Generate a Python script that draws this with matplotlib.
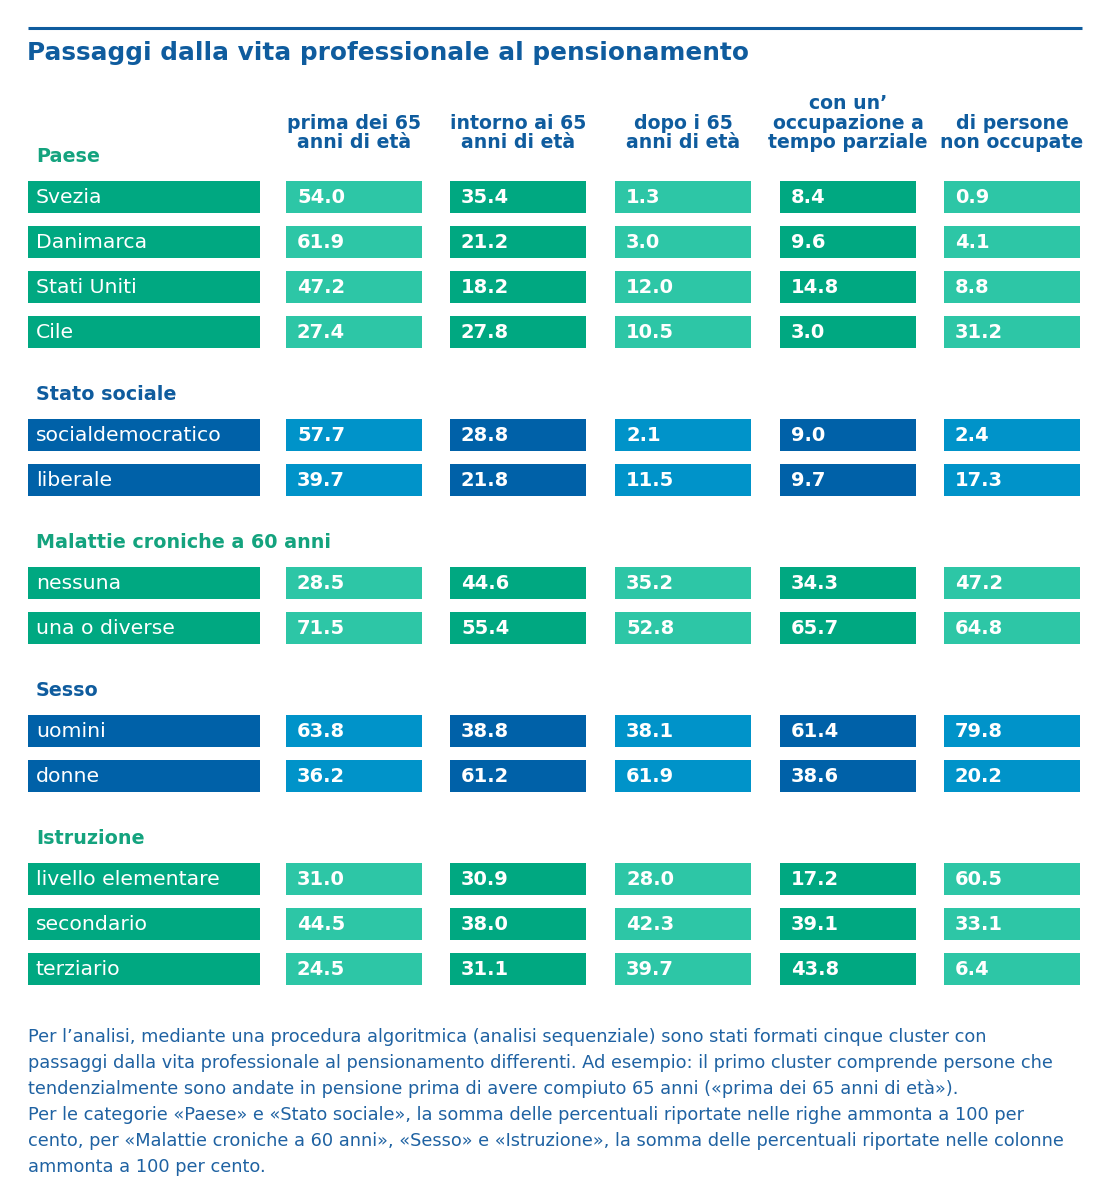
import matplotlib.pyplot as plt
from matplotlib.patches import Rectangle

plt.rcParams['font.family'] = ['DejaVu Sans']

title = "Passaggi dalla vita professionale al pensionamento"
columns = ["prima dei 65\nanni di età", "intorno ai 65\nanni di età", "dopo i 65\nanni di età",
           "con un’\noccupazione a\ntempo parziale", "di persone\nnon occupate"]

groups = ["Paese", "Stato sociale", "Malattie croniche a 60 anni", "Sesso", "Istruzione"]
group_palette = ["green", "blue", "green", "blue", "green"]

rows_paese = ["Svezia", "Danimarca", "Stati Uniti", "Cile"]
vals_paese = [[54.0, 35.4, 1.3, 8.4, 0.9],
              [61.9, 21.2, 3.0, 9.6, 4.1],
              [47.2, 18.2, 12.0, 14.8, 8.8],
              [27.4, 27.8, 10.5, 3.0, 31.2]]

rows_stato = ["socialdemocratico", "liberale"]
vals_stato = [[57.7, 28.8, 2.1, 9.0, 2.4],
              [39.7, 21.8, 11.5, 9.7, 17.3]]

rows_malattie = ["nessuna", "una o diverse"]
vals_malattie = [[28.5, 44.6, 35.2, 34.3, 47.2],
                 [71.5, 55.4, 52.8, 65.7, 64.8]]

rows_sesso = ["uomini", "donne"]
vals_sesso = [[63.8, 38.8, 38.1, 61.4, 79.8],
              [36.2, 61.2, 61.9, 38.6, 20.2]]

rows_istruzione = ["livello elementare", "secondario", "terziario"]
vals_istruzione = [[31.0, 30.9, 28.0, 17.2, 60.5],
                   [44.5, 38.0, 42.3, 39.1, 33.1],
                   [24.5, 31.1, 39.7, 43.8, 6.4]]

all_rows = [rows_paese, rows_stato, rows_malattie, rows_sesso, rows_istruzione]
all_vals = [vals_paese, vals_stato, vals_malattie, vals_sesso, vals_istruzione]

footnote = [
    "Per l’analisi, mediante una procedura algoritmica (analisi sequenziale) sono stati formati cinque cluster con",
    "passaggi dalla vita professionale al pensionamento differenti. Ad esempio: il primo cluster comprende persone che",
    "tendenzialmente sono andate in pensione prima di avere compiuto 65 anni («prima dei 65 anni di età»).",
    "Per le categorie «Paese» e «Stato sociale», la somma delle percentuali riportate nelle righe ammonta a 100 per",
    "cento, per «Malattie croniche a 60 anni», «Sesso» e «Istruzione», la somma delle percentuali riportate nelle colonne",
    "ammonta a 100 per cento.",
]

palette = {"green": ("#00A881", "#2DC6A6", "#14A37E"),
           "blue": ("#0061A8", "#0093C9", "#0F5C9E")}
title_blue = "#0F5C9E"
text_blue = "#1F62A2"

fig = plt.figure(figsize=(11.07, 12), dpi=100)
ax = fig.add_axes([0, 0, 1, 1])
ax.set_xlim(0, 1107)
ax.set_ylim(1200, 0)
ax.axis("off")

# layout
label_left, label_w = 28, 232
col_left = [286, 450, 615, 780, 944]
col_w = 136
row_h = 32
row_step = 45
group_gap = 58

ax.plot([28, 1082], [28, 28], color=title_blue, lw=2.2, solid_capstyle="butt")
ax.text(27, 53, title, fontsize=17.8, fontweight="bold", color=title_blue, va="center", ha="left")

for j, col in enumerate(columns):
    ax.text(col_left[j] + col_w / 2, 152, col, fontsize=13.6, fontweight="bold", color=title_blue,
            ha="center", va="bottom", linespacing=1.02)

y = 181
for g, name in enumerate(groups):
    dark, light, head = palette[group_palette[g]]
    ax.text(36, y - 24, name, fontsize=13.8, fontweight="bold", color=head, va="center", ha="left")
    for i, lab in enumerate(all_rows[g]):
        ax.add_patch(Rectangle((label_left, y), label_w, row_h, color=dark, lw=0))
        ax.text(36, y + row_h / 2 + 0.5, lab, fontsize=14.7, color="white", va="center", ha="left")
        for j, v in enumerate(all_vals[g][i]):
            c = light if j % 2 == 0 else dark
            ax.add_patch(Rectangle((col_left[j], y), col_w, row_h, color=c, lw=0))
            ax.text(col_left[j] + 11, y + row_h / 2 + 0.5, f"{v:.1f}", fontsize=14, fontweight="bold",
                    color="white", va="center", ha="left")
        y += row_step
    y += group_gap

for k, line in enumerate(footnote):
    ax.text(28, 1037 + 26 * k, line, fontsize=12.75, color=text_blue, va="center", ha="left")

fig.savefig("out.png", dpi=100)
